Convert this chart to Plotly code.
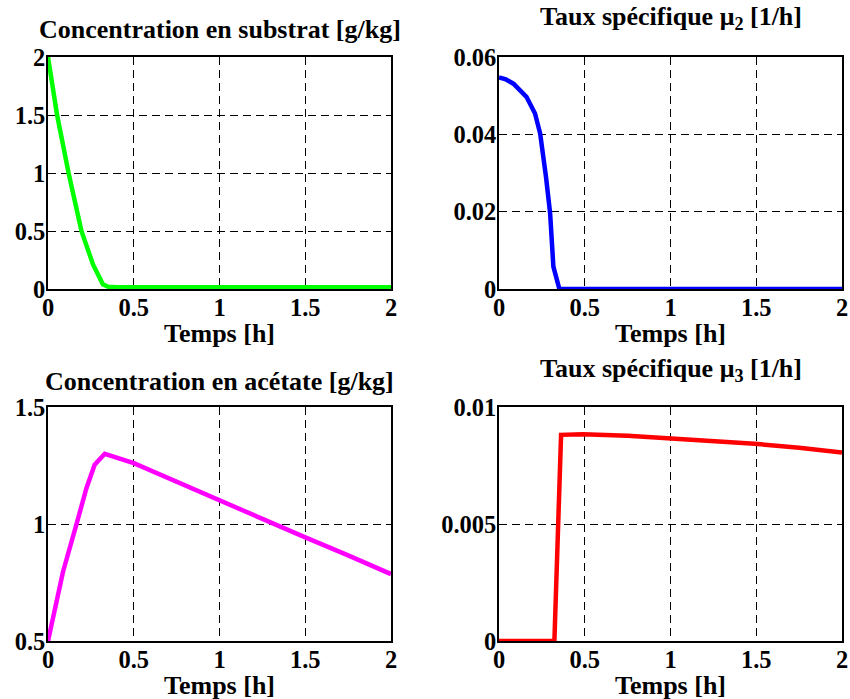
import plotly.graph_objects as go

# ---- data ----
t_sub = [0, 0.053, 0.12, 0.195, 0.263, 0.3, 0.32, 0.35, 0.4, 0.6, 1.0, 1.5, 2.0]
substrat = [2.0, 1.5, 1.0, 0.5, 0.21, 0.09, 0.04, 0.02, 0.015, 0.015, 0.015, 0.015, 0.015]

t_mu2 = [0, 0.04, 0.084, 0.16, 0.21, 0.24, 0.274, 0.298, 0.317, 0.352, 0.5, 1.0, 1.5, 2.0]
mu2 = [0.0547, 0.0542, 0.0531, 0.0497, 0.0454, 0.0402, 0.029, 0.0196, 0.0058, 0.0, 0.0, 0.0, 0.0, 0.0]

t_ace = [0, 0.0875, 0.165, 0.224, 0.272, 0.331, 0.5, 0.75, 1.0, 1.25, 1.49, 1.75, 2.0]
acetate = [0.5, 0.796, 0.996, 1.153, 1.253, 1.30, 1.26, 1.18, 1.103, 1.025, 0.946, 0.866, 0.786]

t_mu3 = [0, 0.323, 0.362, 0.49, 0.75, 1.0, 1.25, 1.49, 1.75, 2.0]
mu3 = [0.0, 0.0, 0.00881, 0.00884, 0.00877, 0.00867, 0.00856, 0.00843, 0.00826, 0.00806]

x_ticks = [0, 0.5, 1, 1.5, 2]
x_ticklabels = ["0", "0.5", "1", "1.5", "2"]
titles = ["Concentration en substrat [g/kg]", "Taux spécifique μ<sub>2</sub> [1/h]",
          "Concentration en acétate [g/kg]", "Taux spécifique μ<sub>3</sub> [1/h]"]
y_ticks = [[0, 0.5, 1, 1.5, 2], [0, 0.02, 0.04, 0.06], [0.5, 1, 1.5], [0, 0.005, 0.01]]
y_ticklabels = [["0", "0.5", "1", "1.5", "2"], ["0", "0.02", "0.04", "0.06"],
                ["0.5", "1", "1.5"], ["0", "0.005", "0.01"]]
y_ranges = [[0, 2], [0, 0.06], [0.5, 1.5], [0, 0.01]]
x_label = "Temps [h]"

FONT = "Liberation Serif"
FS_TICK = 24.5
FS_TITLE = 26
W, H = 850, 699

# plot boxes in page pixels (left, right, top, bottom)
boxes = [(48, 391, 57, 289), (499, 842, 57, 289), (48, 391, 407, 641), (499, 842, 407, 641)]
series = [(t_sub, substrat, "#00FF00"), (t_mu2, mu2, "#0000FF"),
          (t_ace, acetate, "#FF00FF"), (t_mu3, mu3, "#FF0000")]

def px(x):
    return x / W

def py(y):
    return 1 - y / H

fig = go.Figure()
layout = dict(width=W, height=H, margin=dict(l=0, r=0, t=0, b=0),
              paper_bgcolor="white", plot_bgcolor="white", showlegend=False,
              font=dict(family=FONT, size=FS_TICK, color="black"))
annotations = []
title_y = [30, 18, 381, 370]
xlabel_y = [333, 333, 685, 685]
for i, ((l, r, tp, bt), (xs, ys, col)) in enumerate(zip(boxes, series)):
    n = "" if i == 0 else str(i + 1)
    fig.add_trace(go.Scatter(x=xs, y=ys, mode="lines", line=dict(color=col, width=4.5),
                             xaxis="x" + n, yaxis="y" + n, hoverinfo="skip"))
    common = dict(showline=True, linecolor="black", linewidth=1.5, mirror=True,
                  ticks="", automargin=False,
                  showgrid=True, gridcolor="black", gridwidth=1, griddash="8px,5px",
                  zeroline=False, tickfont=dict(family=FONT, size=FS_TICK, color="black"))
    layout["xaxis" + n] = dict(common, domain=[px(l), px(r)], anchor="y" + n,
                               range=[0, 2], tickvals=x_ticks,
                               ticktext=["<b>" + s + "</b>" for s in x_ticklabels],
                               ticklabelstandoff=-4)
    layout["yaxis" + n] = dict(common, domain=[py(bt), py(tp)], anchor="x" + n,
                               range=y_ranges[i], tickvals=y_ticks[i],
                               ticktext=["<b>" + s + "</b>" for s in y_ticklabels[i]],
                               ticklabelstandoff=-4)
    annotations.append(dict(text="<b>" + titles[i] + "</b>", x=px((l + r) / 2),
                            y=py(title_y[i]), xref="paper", yref="paper",
                            showarrow=False, xanchor="center", yanchor="middle",
                            font=dict(family=FONT, size=FS_TITLE, color="black")))
    annotations.append(dict(text="<b>" + x_label + "</b>", x=px((l + r) / 2),
                            y=py(xlabel_y[i]), xref="paper", yref="paper",
                            showarrow=False, xanchor="center", yanchor="middle",
                            font=dict(family=FONT, size=FS_TITLE, color="black")))
layout["annotations"] = annotations
fig.update_layout(**layout)
fig.write_html("out.html", config={"displayModeBar": False},
               post_script="document.body.style.margin='0';")
